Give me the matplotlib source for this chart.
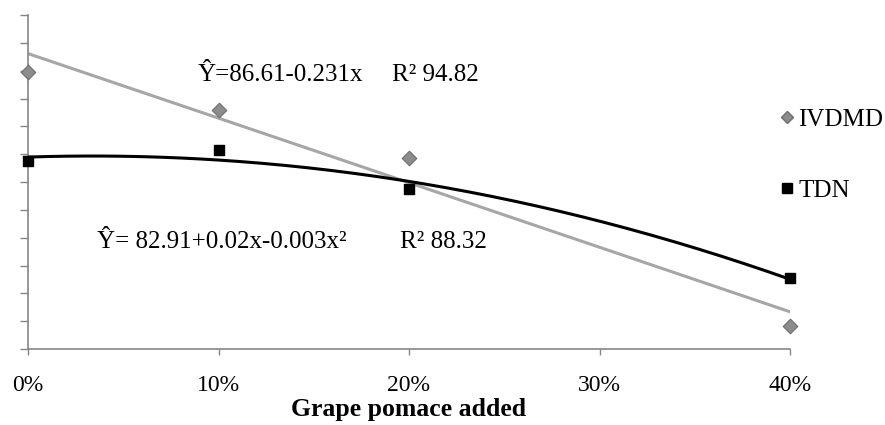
import matplotlib.pyplot as plt
import numpy as np
from matplotlib.lines import Line2D

# values
pomace = [0, 10, 20, 40]
ivdmd = [85.95, 84.59, 82.86, 76.82]
tdn = [82.76, 83.15, 81.75, 78.55]
x_ticks = [0, 10, 20, 30, 40]
x_labels = ["0%", "10%", "20%", "30%", "40%"]

plt.rcParams["font.family"] = ["Liberation Serif", "DejaVu Serif"]

fig = plt.figure(figsize=(8.85, 4.25), dpi=100)
ax = fig.add_axes([28 / 885, 76 / 425, 762 / 885, 334 / 425])

xs = np.linspace(0, 40, 200)
lin = np.polyfit(pomace, ivdmd, 1)
quad = np.polyfit(pomace, tdn, 2)
ax.plot(xs, np.polyval(lin, xs), color="#a6a6a6", lw=2.2, zorder=2)
ax.plot(xs, np.polyval(quad, xs), color="black", lw=2.2, zorder=3)

ax.scatter(pomace, ivdmd, marker="D", s=55, color="#8c8c8c",
           edgecolors="#6e6e6e", linewidths=0.8, zorder=4, clip_on=False)
ax.scatter(pomace, tdn, marker="s", s=55, color="black", zorder=4, clip_on=False)

ax.set_xlim(0, 40)
ax.set_ylim(76, 88)
ax.set_yticks(np.arange(76, 89, 1))
ax.set_yticklabels([])
ax.set_xticks(x_ticks)
ax.set_xticklabels(x_labels, fontsize=17)
ax.tick_params(axis="y", length=6, color="#868686", width=1)
ax.tick_params(axis="x", length=4, color="#868686", width=1, pad=14.5)
for s in ["top", "right"]:
    ax.spines[s].set_visible(False)
for s in ["left", "bottom"]:
    ax.spines[s].set_color("#868686")
    ax.spines[s].set_linewidth(1.2)

ax.set_xlabel("Grape pomace added", fontsize=18.5, fontweight="bold", labelpad=1.5)

# equations, placed in figure pixels
def put(px, py, s):
    fig.text(px / 885, 1 - py / 425, s, fontsize=18, va="center", ha="left")

put(198, 75, "Ŷ=86.61-0.231x")
put(392, 75, "R² 94.82")
put(97, 242, "Ŷ= 82.91+0.02x-0.003x²")
put(400, 242, "R² 88.32")

handles = [
    Line2D([], [], marker="D", ls="", color="#8c8c8c", markeredgecolor="#6e6e6e", markersize=6.5),
    Line2D([], [], marker="s", ls="", color="black", markersize=6.5),
]
fig.legend(handles, ["IVDMD", "TDN"], loc="upper left", bbox_to_anchor=(779.5 / 885, 1 - 108 / 425),
           frameon=False, fontsize=18, handletextpad=0.15, handlelength=0.6,
           labelspacing=1.95, borderaxespad=0, borderpad=0)

fig.savefig("out.png", dpi=100)
